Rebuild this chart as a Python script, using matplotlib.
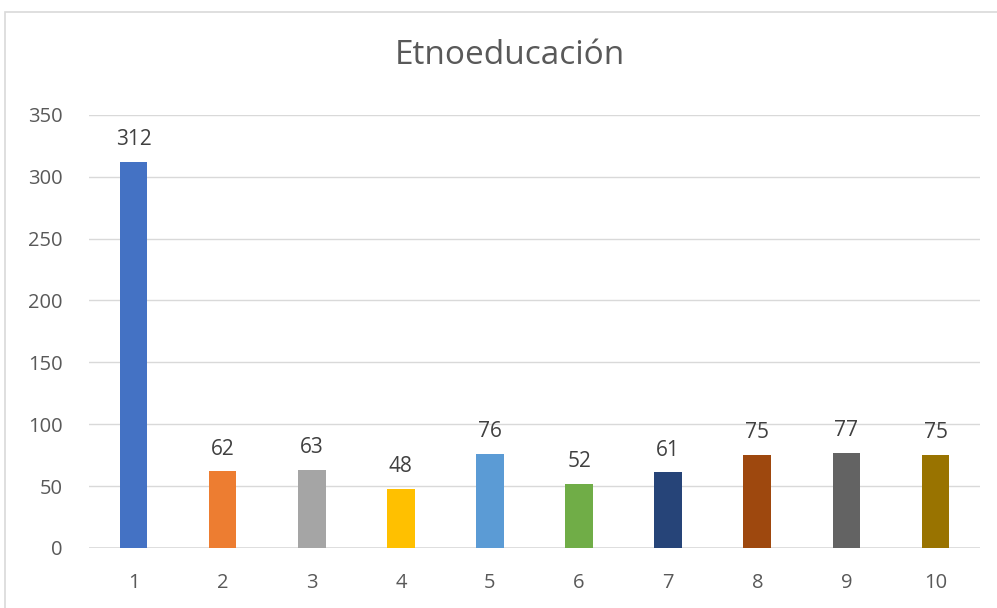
import matplotlib
matplotlib.use('Agg')
import matplotlib.pyplot as plt
from matplotlib.patches import Rectangle

plt.rcParams['font.family'] = ['Open Sans', 'DejaVu Sans']

categorias = ['1', '2', '3', '4', '5', '6', '7', '8', '9', '10']
valores = [312, 62, 63, 48, 76, 52, 61, 75, 77, 75]
colores = ['#4472C4', '#ED7D31', '#A5A5A5', '#FFC000', '#5B9BD5',
           '#70AD47', '#264478', '#9E480E', '#636363', '#997300']

fig = plt.figure(figsize=(9.97, 6.08), dpi=100)
ax = fig.add_axes([0.0893, 0.0987, 0.8937, 0.7125])

x = range(len(categorias))
bars = ax.bar(x, valores, width=0.31, color=colores, zorder=3)
for b, v in zip(bars, valores):
    ax.annotate(str(v), (b.get_x() + b.get_width() / 2, v), xytext=(0, 12),
                textcoords='offset points', ha='center', va='baseline',
                fontsize=15, color='#404040')

ax.set_xlim(-0.5, len(categorias) - 0.5)
ax.set_ylim(0, 350)
ax.set_yticks(range(0, 351, 50))
ax.set_xticks(list(x))
ax.set_xticklabels(categorias)
ax.grid(axis='y', color='#D9D9D9', lw=1, zorder=0)
for s in ax.spines.values():
    s.set_visible(False)
ax.axhline(0, color='#D9D9D9', lw=1.2, zorder=2)
ax.tick_params(length=0, labelsize=14.5, colors='#595959')
ax.tick_params(axis='x', pad=18)
ax.tick_params(axis='y', pad=19)

fig.text(0.511, 1 - 64 / 608, 'Etnoeducación', ha='center', va='baseline',
         fontsize=24, color='#595959')

fig.patches.append(Rectangle((5 / 997, -0.01), 1.1, 1 - 12 / 608 + 0.01,
                             transform=fig.transFigure, fill=False,
                             edgecolor='#D9D9D9', lw=1.2))

fig.savefig('out.png', dpi=100)
